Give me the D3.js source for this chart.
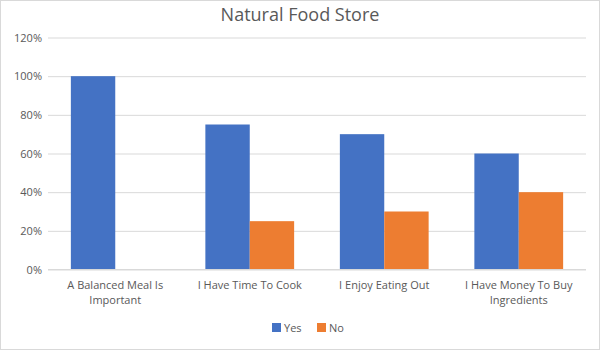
<!DOCTYPE html>
<html><head><meta charset="utf-8">
<script src="https://cdn.jsdelivr.net/npm/d3@7"></script>
<style>body{margin:0;background:#fff}svg{display:block;font-family:"Open Sans",sans-serif}</style>
</head><body><svg id="c" width="600" height="350"></svg>
<script>
const categories = ["A Balanced Meal Is Important","I Have Time To Cook","I Enjoy Eating Out","I Have Money To Buy Ingredients"];
const seriesNames = ["Yes","No"];
const yesValues = [1.00,0.75,0.70,0.60];
const noValues = [0.00,0.25,0.30,0.40];
const yTicks = [0,0.2,0.4,0.6,0.8,1.0,1.2];
const colors = ["#4472C4","#ED7D31"];

const svg = d3.select("#c");
svg.append("rect").attr("x",0.5).attr("y",0.5).attr("width",599).attr("height",349).attr("fill","#fff").attr("stroke","#d9d9d9");
const L=48,R=586,T=37.5,B=269.5;
const x0 = d3.scaleBand().domain(categories).range([L,R]).padding(0);
const bw = x0.bandwidth(), gap = bw*0.17;
const x1 = d3.scaleBand().domain(seriesNames).range([gap,bw-gap]).padding(0);
const y = d3.scaleLinear().domain([0,1.2]).range([B,T]);

svg.append("text").attr("x",300).attr("y",21).attr("text-anchor","middle").attr("font-size",18).attr("fill","#595959").text("Natural Food Store");

const yAxis = d3.axisLeft(y).tickValues(yTicks).tickFormat(d3.format(".0%")).tickSize(-(R-L)).tickPadding(6);
const ga = svg.append("g").attr("transform",`translate(${L},0)`).call(yAxis);
ga.select(".domain").remove();
ga.selectAll(".tick line").attr("stroke","#d9d9d9");
ga.selectAll(".tick text").attr("fill","#595959").attr("font-size",11).attr("font-family","Open Sans, sans-serif");

const data = categories.map((c,i)=>({c, vals:[yesValues[i],noValues[i]]}));
const g = svg.append("g");
data.forEach(d=>{
  d.vals.forEach((v,j)=>{
    g.append("rect").attr("x",x0(d.c)+x1(seriesNames[j])).attr("width",x1.bandwidth())
      .attr("y",y(v)).attr("height",y(0)-y(v)).attr("fill",colors[j]);
  });
});
svg.append("line").attr("x1",L).attr("x2",R).attr("y1",B).attr("y2",B).attr("stroke","#d9d9d9");

// category labels with wrapping
categories.forEach(c=>{
  const t = svg.append("text").attr("text-anchor","middle").attr("font-size",11).attr("fill","#595959");
  const words = c.split(" ");
  const cx = x0(c)+bw/2;
  let lines=[], line=[];
  const tmp = svg.append("text").attr("font-size",11);
  words.forEach(w=>{
    const test=[...line,w].join(" ");
    tmp.text(test);
    if(tmp.node().getComputedTextLength()>bw-22 && line.length){lines.push(line.join(" "));line=[w];}
    else line.push(w);
  });
  lines.push(line.join(" "));
  tmp.remove();
  lines.forEach((l,i)=>t.append("tspan").attr("x",cx).attr("y",289+i*15).text(l));
});

// legend
const lg = svg.append("g");
const leg = [{n:"Yes",x:272},{n:"No",x:317}];
leg.forEach((l,i)=>{
  lg.append("rect").attr("x",l.x).attr("y",323).attr("width",9).attr("height",9).attr("fill",colors[i]);
  lg.append("text").attr("x",l.x+12).attr("y",332).attr("font-size",11).attr("fill","#595959").text(seriesNames[i]);
});
</script></body></html>
